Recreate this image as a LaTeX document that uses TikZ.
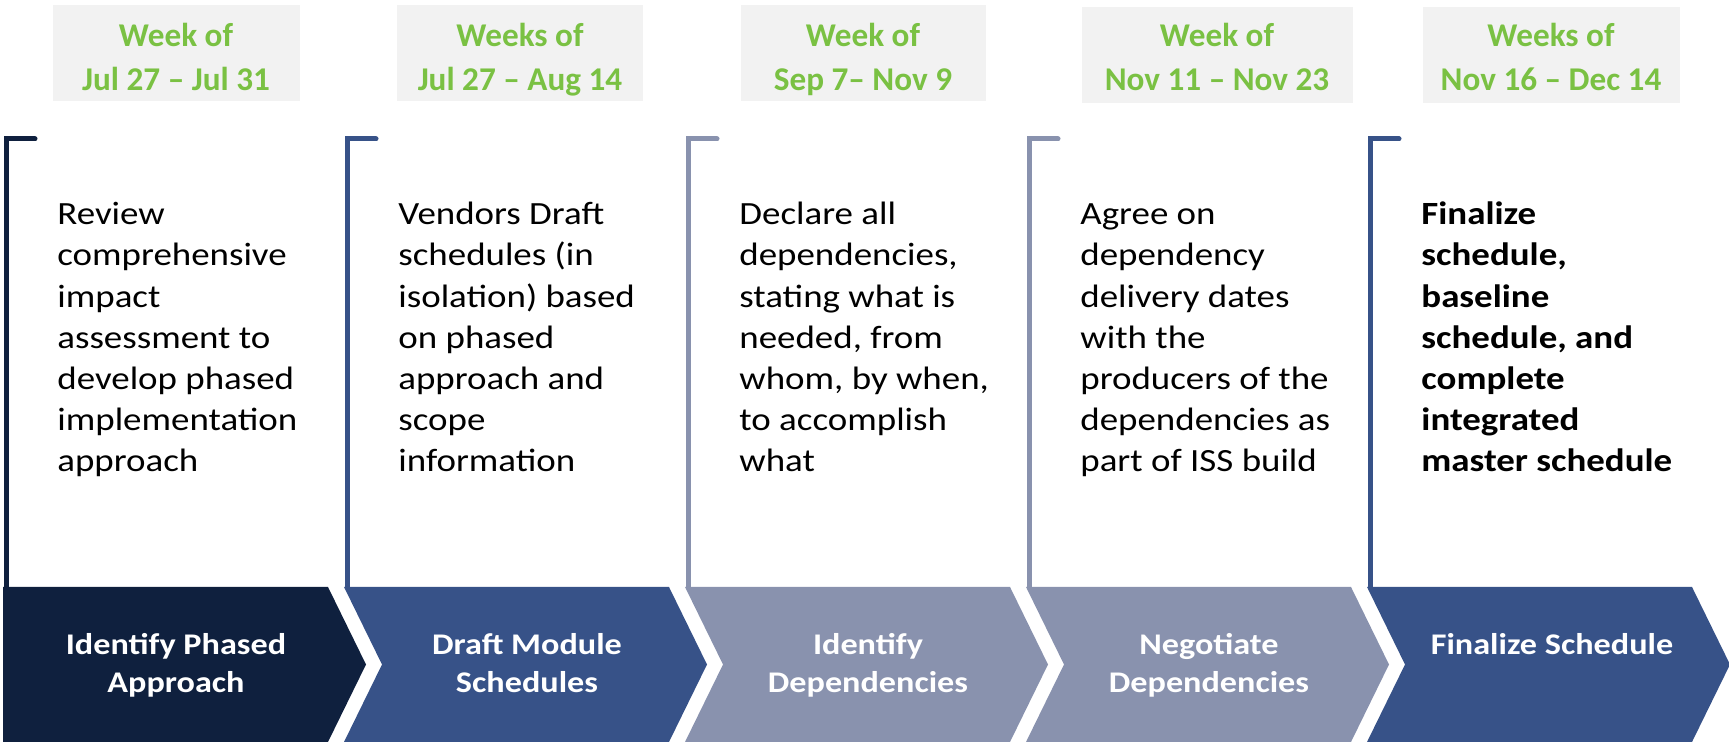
\documentclass[tikz,border=0pt]{standalone}
\usepackage{fontspec}
\setmainfont{Carlito}
\newfontfamily\widefont{Carlito}[FakeStretch=1.14]

\begin{document}
\begin{tikzpicture}[x=0.5pt,y=0.5pt,
  datetext/.style={anchor=base,align=center,inner sep=0,text=kGreen,font=\fontsize{16.6}{22}\selectfont\bfseries},
  tasktext/.style={anchor=base west,align=left,inner sep=0,font=\widefont\fontsize{16.2}{20.6}\selectfont},
  steptext/.style={anchor=base,align=center,inner sep=0,text=white,font=\widefont\fontsize{15}{19}\selectfont\bfseries}]
  % colors
  \definecolor{kNavy}{RGB}{15,32,62}
  \definecolor{kBlue}{RGB}{55,82,136}
  \definecolor{kSlate}{RGB}{137,146,174}
  \definecolor{kGreen}{RGB}{122,193,67}
  \definecolor{kPaper}{RGB}{242,242,242}
  \useasboundingbox (0,0) rectangle (1729,742);
  % chevrons
  \fill[kNavy] (3,155) -- (328,155) -- (366,77.5) -- (328,0) -- (3,0) -- cycle;
  \foreach \i/\col in {1/kBlue, 2/kSlate, 3/kSlate, 4/kBlue}
    \fill[\col] ({3+341*\i},155) -- ++(325,0) -- ++(38,-77.5) -- ++(-38,-77.5) -- ++(-325,0) -- ++(38,77.5) -- cycle;
  % brackets
  \foreach \i/\col in {0/kNavy, 1/kBlue, 2/kSlate, 3/kSlate, 4/kBlue}
    \draw[\col,line width=2.5pt,line cap=round] ({6+341*\i},155) -- ({6+341*\i},603) -- ({35+341*\i},603);
  % date boxes (base = last line)
  \foreach \cx/\w/\yb in {176/247/641, 520/246/641, 863/245/641, 1217/271/639, 1551/257/639}
    \fill[kPaper] ({\cx-\w/2},\yb) rectangle ({\cx+\w/2},\yb+96);
  \node[datetext] (date1) at (176,651) {Week of\\Jul 27 -- Jul 31};
  \node[datetext] (date2) at (520,651) {Weeks of\\Jul 27 -- Aug 14};
  \node[datetext] (date3) at (863,651) {Week of\\Sep 7-- Nov 9};
  \node[datetext] (date4) at (1217,651) {Week of\\Nov 11 -- Nov 23};
  \node[datetext] (date5) at (1551,651) {Weeks of\\Nov 16 -- Dec 14};
  % tasks
  \node[tasktext] (task1) at (57,270) {Review\\comprehensive\\impact\\assessment to\\develop phased\\implementation\\approach};
  \node[tasktext] (task2) at (398,270) {Vendors Draft\\schedules (in\\isolation) based\\on phased\\approach and\\scope\\information};
  \node[tasktext] (task3) at (739,270) {Declare all\\dependencies,\\stating what is\\needed, from\\whom, by when,\\to accomplish\\what};
  \node[tasktext] (task4) at (1080,270) {Agree on\\dependency\\delivery dates\\with the\\producers of the\\dependencies as\\part of ISS build};
  \node[tasktext,font=\widefont\fontsize{16.2}{20.6}\selectfont\bfseries] (task5) at (1421,270) {Finalize\\schedule,\\baseline\\schedule, and\\complete\\integrated\\master schedule};
  % steps
  \node[steptext] (step1) at (176,49) {Identify Phased\\Approach};
  \node[steptext] (step2) at (527,49) {Draft Module\\Schedules};
  \node[steptext] (step3) at (868,49) {Identify\\Dependencies};
  \node[steptext] (step4) at (1209,49) {Negotiate\\Dependencies};
  \node[steptext] (step5) at (1552,87) {Finalize Schedule};
\end{tikzpicture}
\end{document}
